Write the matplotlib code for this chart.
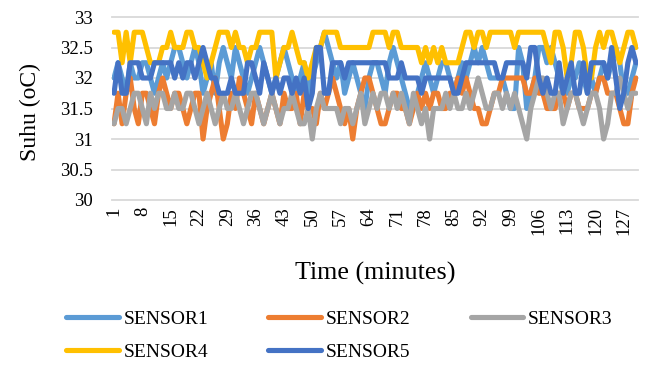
import numpy as np
import matplotlib
matplotlib.use("Agg")
import matplotlib.pyplot as plt

series_names = ["SENSOR1", "SENSOR2", "SENSOR3", "SENSOR4", "SENSOR5"]

sensor1 = [32.0, 32.25, 32.0, 31.75, 32.25, 32.0, 32.0, 32.25, 32.25, 32.0,
           31.75, 32.0, 32.25, 32.0, 32.25, 32.5, 32.5, 32.25, 32.0, 32.25,
           32.5, 32.25, 31.75, 32.0, 32.25, 31.75, 32.25, 32.5, 32.25, 32.0,
           32.5, 32.25, 32.0, 31.75, 32.0, 32.25, 32.5, 32.25, 32.0, 31.75,
           32.0, 32.25, 32.5, 32.25, 32.0, 31.75, 32.0, 32.25, 31.75, 32.0,
           32.25, 32.5, 32.75, 32.5, 32.25, 32.0, 32.25, 31.75, 32.0, 32.25,
           32.0, 31.75, 31.5, 32.0, 32.25, 32.25, 32.0, 31.75, 32.25, 32.5,
           32.25, 32.0, 31.75, 31.5, 31.5, 31.75, 32.0, 32.25, 32.0, 31.75,
           32.0, 32.25, 32.25, 32.0, 31.75, 32.0, 32.25, 32.0, 32.25, 32.5,
           32.25, 32.5, 32.25, 32.0, 32.0, 32.0, 32.0, 31.75, 31.5, 31.5,
           32.5, 32.25, 31.5, 31.75, 32.0, 32.5, 32.5, 32.25, 32.5, 32.25,
           32.0, 31.75, 31.75, 32.0, 32.0, 32.25, 32.0, 31.75, 32.0, 31.75,
           32.0, 32.25, 32.0, 32.25, 32.5, 32.25, 31.75, 31.75, 32.0, 32.25]

sensor2 = [31.25, 31.75, 31.25, 31.75, 32.0, 31.5, 31.25, 31.75, 31.75, 31.5,
           31.25, 31.75, 32.0, 31.75, 31.5, 31.75, 31.75, 31.5, 31.25, 31.5,
           31.75, 31.75, 31.0, 31.5, 31.75, 32.0, 31.5, 31.0, 31.25, 31.75,
           31.5, 32.0, 31.75, 31.5, 31.25, 31.75, 31.5, 31.25, 31.5, 31.75,
           31.5, 31.25, 31.75, 31.5, 31.5, 31.75, 31.25, 31.75, 31.5, 31.5,
           31.25, 31.75, 31.5, 31.75, 32.0, 31.75, 31.5, 31.25, 31.5, 31.0,
           31.5, 31.75, 32.0, 32.0, 31.75, 31.5, 31.25, 31.25, 31.5, 31.75,
           31.75, 31.5, 31.5, 31.25, 31.5, 31.75, 31.5, 31.75, 31.5, 31.75,
           31.75, 31.5, 31.5, 31.75, 31.75, 32.0, 31.75, 32.0, 31.75, 31.5,
           31.5, 31.25, 31.25, 31.5, 31.75, 31.75, 32.0, 32.0, 32.0, 32.0,
           32.0, 32.0, 31.75, 31.75, 32.0, 31.75, 31.75, 31.5, 31.5, 31.5,
           31.75, 31.75, 31.5, 31.75, 31.75, 31.5, 31.5, 31.5, 31.75, 31.75,
           32.0, 32.0, 31.75, 31.75, 31.75, 31.5, 31.25, 31.25, 31.75, 32.0]

sensor3 = [31.25, 31.5, 31.5, 31.25, 31.5, 31.75, 31.75, 31.5, 31.25, 31.75,
           31.5, 31.75, 31.75, 31.5, 31.5, 31.75, 31.5, 31.5, 31.75, 31.75,
           31.5, 31.25, 31.5, 31.75, 31.5, 31.25, 31.5, 31.75, 31.5, 31.5,
           31.75, 31.5, 31.25, 31.5, 31.75, 31.75, 31.5, 31.25, 31.5, 31.75,
           31.5, 31.25, 31.5, 31.5, 31.75, 31.5, 31.25, 31.25, 31.5, 31.0,
           31.5, 31.75, 31.5, 31.5, 31.5, 31.5, 31.25, 31.5, 31.5, 31.25,
           31.5, 31.75, 31.25, 31.5, 31.75, 31.5, 31.75, 31.75, 31.5, 31.75,
           31.5, 31.75, 31.5, 31.25, 31.75, 31.5, 31.25, 31.5, 31.0, 31.5,
           31.5, 31.5, 31.75, 31.5, 31.75, 31.5, 31.5, 31.75, 31.5, 31.75,
           32.0, 31.75, 31.5, 31.5, 31.75, 31.75, 31.5, 31.75, 31.5, 31.75,
           31.5, 31.25, 31.0, 31.5, 31.75, 32.0, 32.0, 31.75, 31.5, 31.75,
           31.75, 31.25, 31.5, 31.75, 31.75, 31.5, 31.25, 31.5, 31.75, 31.75,
           31.5, 31.0, 31.25, 31.75, 31.75, 32.0, 31.75, 31.5, 31.75, 31.75]

sensor4 = [32.75, 32.75, 32.25, 32.75, 32.25, 32.75, 32.75, 32.75, 32.5, 32.25,
           32.25, 32.25, 32.5, 32.5, 32.75, 32.5, 32.5, 32.5, 32.75, 32.75,
           32.5, 32.5, 32.25, 32.0, 32.25, 32.5, 32.75, 32.75, 32.75, 32.5,
           32.75, 32.5, 32.5, 32.25, 32.5, 32.5, 32.75, 32.75, 32.75, 32.75,
           32.0, 32.25, 32.5, 32.5, 32.75, 32.5, 32.25, 32.25, 32.0, 32.25,
           32.5, 32.5, 32.75, 32.75, 32.75, 32.75, 32.5, 32.5, 32.5, 32.5,
           32.5, 32.5, 32.5, 32.5, 32.75, 32.75, 32.75, 32.75, 32.5, 32.75,
           32.75, 32.5, 32.5, 32.5, 32.5, 32.5, 32.25, 32.5, 32.25, 32.5,
           32.25, 32.5, 32.25, 32.25, 32.25, 32.25, 32.5, 32.75, 32.75, 32.5,
           32.75, 32.75, 32.5, 32.75, 32.75, 32.75, 32.75, 32.75, 32.75, 32.5,
           32.75, 32.75, 32.75, 32.75, 32.75, 32.75, 32.75, 32.5, 32.25, 32.75,
           32.75, 32.5, 32.0, 32.25, 32.75, 32.75, 32.5, 32.0, 32.0, 32.5,
           32.75, 32.5, 32.75, 32.75, 32.5, 32.25, 32.5, 32.75, 32.75, 32.5]

sensor5 = [31.75, 32.25, 31.75, 31.75, 32.25, 32.25, 32.25, 32.0, 32.0, 32.0,
           32.25, 32.25, 32.25, 32.25, 32.25, 32.0, 32.25, 32.0, 32.25, 32.25,
           32.0, 32.25, 32.5, 32.25, 32.0, 32.0, 31.75, 31.75, 31.75, 32.0,
           31.75, 31.75, 31.75, 32.25, 32.25, 32.0, 31.75, 32.25, 32.0, 31.75,
           32.0, 31.75, 32.0, 32.0, 31.75, 32.0, 31.75, 32.0, 31.5, 31.75,
           32.5, 32.5, 31.75, 31.75, 32.25, 32.25, 32.25, 32.0, 32.25, 32.25,
           32.25, 32.25, 32.25, 32.25, 32.25, 32.25, 32.25, 32.25, 32.0, 32.0,
           32.0, 32.25, 32.0, 32.0, 32.0, 32.0, 31.75, 32.0, 32.0, 32.0,
           32.0, 32.0, 32.0, 32.0, 31.75, 31.75, 32.0, 32.25, 32.25, 32.25,
           32.25, 32.25, 32.25, 32.25, 32.25, 32.0, 32.0, 32.25, 32.25, 32.25,
           32.25, 32.25, 32.0, 32.5, 32.5, 32.0, 31.75, 32.0, 31.75, 31.75,
           32.25, 31.75, 32.0, 32.25, 31.75, 31.75, 32.25, 31.75, 32.25, 32.25,
           32.25, 32.25, 32.0, 32.5, 32.0, 31.5, 31.75, 32.25, 32.5, 32.25]

x_tick_labels = ["1", "8", "15", "22", "29", "36", "43", "50", "57", "64",
                 "71", "78", "85", "92", "99", "106", "113", "120", "127"]
y_ticks = [30, 30.5, 31, 31.5, 32, 32.5, 33]
y_tick_labels = ["30", "30.5", "31", "31.5", "32", "32.5", "33"]

colors = ["#5B9BD5", "#ED7D31", "#A5A5A5", "#FFC000", "#4472C4"]

plt.rcParams['font.family'] = ['Liberation Serif', 'DejaVu Serif']

W, H = 645, 372
fig = plt.figure(figsize=(W / 100, H / 100), dpi=100)
ax = fig.add_axes([112 / W, 1 - 200 / H, 526 / W, 183 / H])

all_series = [sensor1, sensor2, sensor3, sensor4, sensor5]
n = max(len(s) for s in all_series)
lines = []
for name, vals, c in zip(series_names, all_series, colors):
    x = np.arange(1, len(vals) + 1)
    ln, = ax.plot(x, vals, color=c, lw=3.7, solid_capstyle='round',
                  solid_joinstyle='round', label=name)
    lines.append(ln)

ax.set_xlim(0.5, n + 0.5)
ax.set_ylim(30, 33)
ax.set_yticks(y_ticks)
ax.set_yticklabels(y_tick_labels)
ax.set_xticks([int(t) for t in x_tick_labels])
ax.set_xticklabels(x_tick_labels, rotation=90, va='top', ha='center')
ax.tick_params(axis='both', length=0, labelsize=13.5)
ax.tick_params(axis='y', pad=14)
ax.tick_params(axis='x', pad=5)

for s in ax.spines.values():
    s.set_visible(False)
ax.grid(axis='y', color='#D9D9D9', lw=1.3)
ax.set_axisbelow(True)
for gl in ax.get_ygridlines():
    gl.set_clip_on(False)

fig.text(30 / W, 1 - 112 / H, "Suhu (oC)", rotation=90, ha='center',
         va='center', fontsize=17)
fig.text(375 / W, 1 - 273 / H, "Time (minutes)", ha='center', va='center',
         fontsize=18.7)

# row-wise legend order (matplotlib fills columns first)
order = [0, 3, 1, 4, 2]
leg = fig.legend([lines[i] for i in order], [series_names[i] for i in order],
                 loc='upper left', bbox_to_anchor=(66 / W, 1 - 310 / H),
                 ncol=3, frameon=False, fontsize=14, handlelength=2.7,
                 handletextpad=0.25, columnspacing=3.1, borderpad=0,
                 borderaxespad=0, labelspacing=0.8)

fig.savefig("out.png", dpi=100)
